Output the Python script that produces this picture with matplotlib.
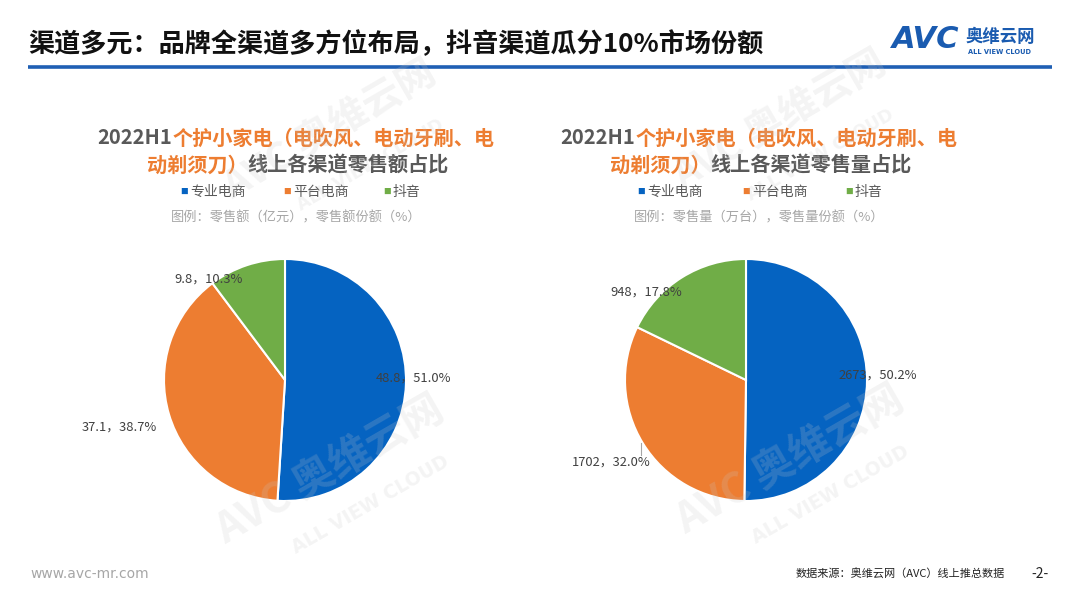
import matplotlib
matplotlib.use("Agg")
import matplotlib.pyplot as plt

plt.rcParams['font.family'] = ['Noto Sans CJK SC', 'DejaVu Sans']

# ---- data ----
channels = ["专业电商", "平台电商", "抖音"]
sales_value = [48.8, 37.1, 9.8]          # 零售额（亿元）
sales_value_share = [51.0, 38.7, 10.3]   # 零售额份额（%）
sales_volume = [2673, 1702, 948]         # 零售量（万台）
sales_volume_share = [50.2, 32.0, 17.8]  # 零售量份额（%）
colors = ["#0563C1", "#ED7D31", "#70AD47"]

main_title = "渠道多元：品牌全渠道多方位布局，抖音渠道瓜分10%市场份额"
W, H = 1080, 608
fig = plt.figure(figsize=(W / 100, H / 100), dpi=100)
ax = fig.add_axes([0, 0, 1, 1])
ax.set_xlim(0, W)
ax.set_ylim(0, H)
ax.axis('off')

def Y(y):
    return H - y

renderer = fig.canvas.get_renderer()

def multicolor_centered(xc, y, pieces, **kw):
    arts = []
    widths = []
    for txt, col in pieces:
        t = ax.text(0, Y(y), txt, color=col, va='center', ha='left', **kw)
        bb = t.get_window_extent(renderer=renderer)
        arts.append(t)
        widths.append(bb.width)
    total = sum(widths)
    x = xc - total / 2
    for t, w in zip(arts, widths):
        t.set_x(x)
        x += w

# ---- header ----
ax.text(28, Y(45), main_title, fontsize=18.8, fontweight='bold', color='#111111', va='center', ha='left')
ax.plot([28, 1052], [Y(67), Y(67)], color='#1F5FB4', lw=2.6, solid_capstyle='butt')
ax.text(892, Y(40), "AVC", fontsize=22, fontweight='bold', fontstyle='italic', color='#1A5BB0',
        va='center', ha='left', family='DejaVu Sans')
ax.text(966, Y(37), "奥维云网", fontsize=12.5, fontweight='bold', color='#1A5BB0', va='center', ha='left')
ax.text(968, Y(52), "ALL VIEW CLOUD", fontsize=4.8, fontweight='bold', color='#1A5BB0', va='center', ha='left',
        family='DejaVu Sans')

# ---- watermarks ----
wm_kw = dict(color='#c8c8c8', alpha=0.2, rotation=30, fontweight='bold', ha='center', va='center', zorder=10)
for (wx, wy, fs) in [(330, 470, 30), (790, 460, 30), (330, 130, 28), (780, 120, 28)]:
    ax.text(wx, Y(wy), "AVC 奥维云网", fontsize=fs, **wm_kw)
    ax.text(wx + 40, Y(wy + 35), "ALL VIEW CLOUD", fontsize=fs * 0.45, family='DejaVu Sans', **wm_kw)

orange = '#ED7D31'
gray = '#595959'

def panel(xc, pie_center, values, shares, kind, legend_xs, note, labels_xy, leader=None):
    multicolor_centered(xc, 138, [("2022H1", gray), ("个护小家电（电吹风、电动牙刷、电", orange)],
                        fontsize=14.5, fontweight='bold')
    multicolor_centered(xc + 2, 165, [("动剃须刀）", orange), ("线上各渠道零售" + kind + "占比", gray)],
                        fontsize=14.5, fontweight='bold')
    for lx, name, col in zip(legend_xs, channels, colors):
        ax.text(lx, Y(192), "■", color=col, fontsize=5.5, va='center', ha='left')
        ax.text(lx + 10, Y(192), name, color=gray, fontsize=10, va='center', ha='left')
    ax.text(xc, Y(218), note, color='#A6A6A6', fontsize=9.5, fontstyle='italic', va='center', ha='center')
    wedges, _ = ax.pie(values, colors=colors, startangle=90, counterclock=False,
                       center=(pie_center[0], Y(pie_center[1])), radius=121,
                       wedgeprops=dict(edgecolor='white', linewidth=1.5), frame=True)
    for (lx, ly), v, s in zip(labels_xy, values, shares):
        ax.text(lx, Y(ly), f"{v}，{s:.1f}%", color='#404040', fontsize=9.3, va='center', ha='left')
    if leader is not None:
        ax.plot([leader[0], leader[0]], [Y(leader[1]), Y(leader[2])], color='#A6A6A6', lw=0.8)

panel(296, (285, 380), sales_value, sales_value_share, "额", [180, 283, 383],
      "图例：零售额（亿元），零售额份额（%）",
      [(376, 378), (82, 427), (174, 279)])
panel(759, (746, 380), sales_volume, sales_volume_share, "量", [637, 742, 845],
      "图例：零售量（万台），零售量份额（%）",
      [(838, 375), (572, 462), (610, 292)], leader=(641, 443, 455))

ax.set_xlim(0, W)
ax.set_ylim(0, H)
ax.set_aspect('auto')
ax.axis('off')

# ---- footer ----
ax.text(30, Y(574), "www.avc-mr.com", color='#A6A6A6', fontsize=10, va='center', ha='left', family='DejaVu Sans')
ax.text(1005, Y(574), "数据来源：奥维云网（AVC）线上推总数据", color='#222222', fontsize=8, va='center', ha='right')
ax.text(1040, Y(574), "-2-", color='#222222', fontsize=10, va='center', ha='center')

fig.savefig("out.png", dpi=100)
